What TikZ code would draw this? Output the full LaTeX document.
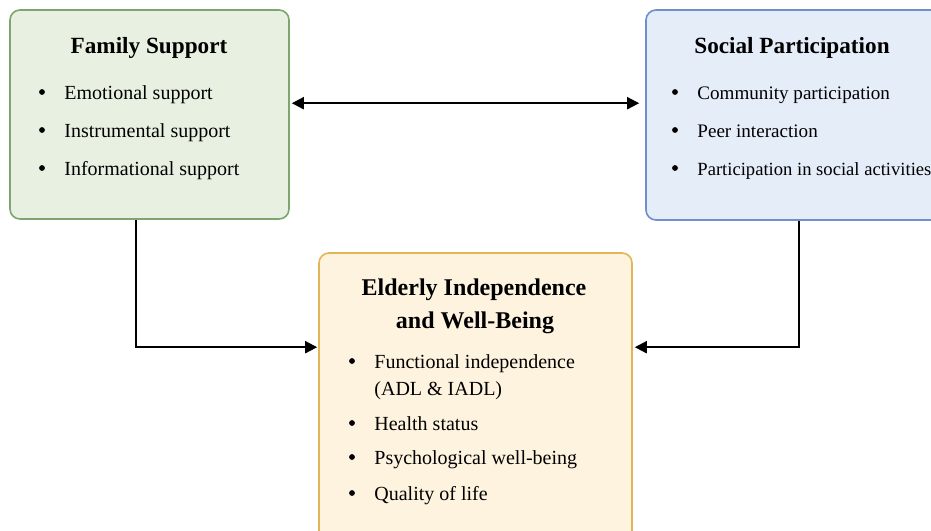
\documentclass[tikz,border=0pt]{standalone}
\usepackage{fontspec}
\setmainfont{Liberation Serif}
\usetikzlibrary{arrows.meta}
\usetikzlibrary{fit}

\definecolor{verdeSfondo}{HTML}{E8F1E1}
\definecolor{verdeBordo}{HTML}{7FA56F}
\definecolor{bluSfondo}{HTML}{E5EDF9}
\definecolor{bluBordo}{HTML}{6F8FCA}
\definecolor{aranSfondo}{HTML}{FEF3DF}
\definecolor{aranBordo}{HTML}{E2B556}

\tikzset{
  riquadro/.style={draw, rounded corners=5pt, line width=0.8pt, inner sep=0pt},
  titolo/.style={font=\fontsize{11.6}{14}\selectfont\bfseries, anchor=base, inner sep=0pt},
  voce/.style={font=\fontsize{10}{12.5}\selectfont, anchor=base west, inner sep=0pt},
  pallino/.style={circle, fill=black, inner sep=0pt, minimum size=2.9pt},
  freccia/.style={line width=1pt, -{Triangle[length=6pt,width=6pt]}}
}

\begin{document}
\begin{tikzpicture}[x=0.5pt,y=-0.5pt]

\def\voce(#1,#2,#3,#4){ % nome, (x, y) della linea di base e testo
\node[pallino] (#1p) at (#2-22,#3-7) {};
\node[voce] (#1) at (#2,#3) {#4};}

%Fissa i margini e taglia quello che esce
\useasboundingbox (0,0) rectangle (931,530);
\clip (0,0) rectangle (931,530);

%Disegna i riquadri
\node[riquadro, fill=verdeSfondo, draw=verdeBordo, fit={(10,10) (289,219)}] (famiglia) {};
\node[riquadro, fill=bluSfondo, draw=bluBordo, fit={(646,10) (945,220)}] (sociale) {};
\node[riquadro, fill=aranSfondo, draw=aranBordo, fit={(319,253) (632,548)}] (anziani) {};

%Scrive i titoli
\node[titolo] (tFam) at (149,53.5) {Family Support};
\node[titolo] (tSoc) at (792,53) {Social Participation};
\node[titolo, font=\fontsize{12}{14}\selectfont\bfseries] (tAnz1) at (474,295) {Elderly Independence};
\node[titolo, font=\fontsize{12}{14}\selectfont\bfseries] (tAnz2) at (475,328) {and Well-Being};

%Scrive le voci
\voce(emo,64,99,Emotional support)
\voce(stru,64,137,Instrumental support)
\voce(info,64,175,Informational support)
\begin{scope}[voce/.append style={font=\fontsize{9.55}{12}\selectfont}]
\voce(comu,697,99,Community participation)
\voce(pari,697,137,Peer interaction)
\voce(atti,697,175,\fontsize{9.3}{12}\selectfont Participation in social activities)
\end{scope}
\voce(funz,374,368,Functional independence)
\node[voce] (adl) at (374,395) {(ADL \& IADL)};
\voce(salute,374,430,Health status)
\voce(psico,374,464,Psychological well-being)
\voce(vita,374,500,Quality of life)

%Disegna le frecce
\draw[freccia, {Triangle[length=6pt,width=6pt]}-{Triangle[length=6pt,width=6pt]}, shorten <=1pt, shorten >=3pt]
  ([yshift=-47pt]famiglia.north east) -- ([yshift=-47pt]sociale.north west);
\draw[freccia, shorten >=0.5pt] ([xshift=63.5pt]famiglia.south west) |- ([yshift=-47.5pt]anziani.north west);
\draw[freccia, shorten >=1pt] ([xshift=77pt]sociale.south west) |- ([yshift=-47.5pt]anziani.north east);

\end{tikzpicture}
\end{document}
